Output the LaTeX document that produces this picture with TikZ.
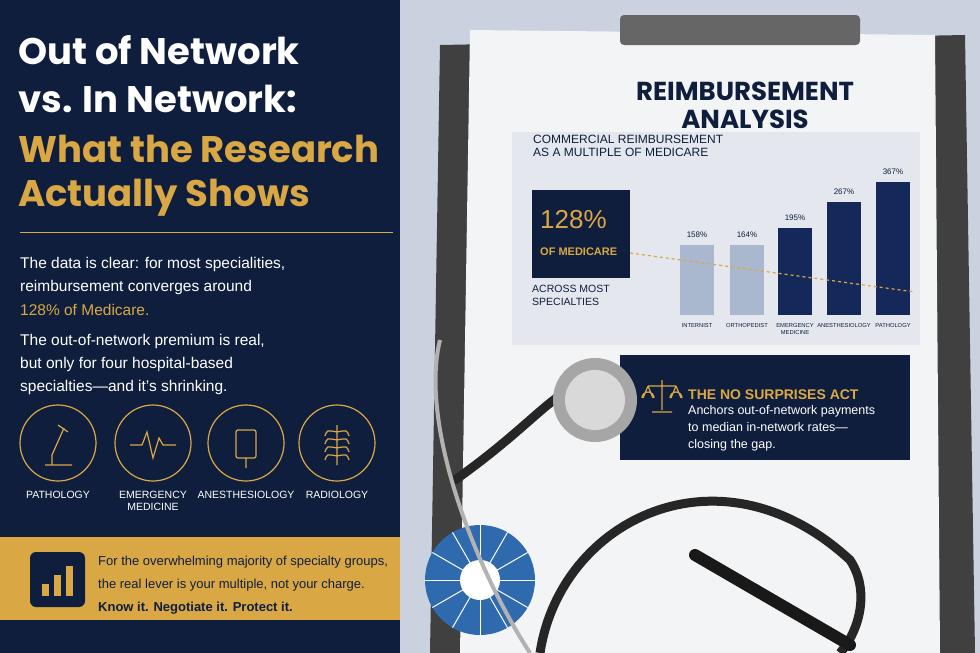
\documentclass[tikz,border=0pt]{standalone}
\usepackage{fontspec}
\setmainfont{Poppins}
\setsansfont{Liberation Sans}
\usetikzlibrary{positioning}
\definecolor{navy}{HTML}{0F1E3D}
\definecolor{gold}{HTML}{D9A845}
\definecolor{barlight}{HTML}{A9B8CF}
\definecolor{bardark}{HTML}{15285A}
\definecolor{paper}{HTML}{F3F4F6}
\definecolor{chartbg}{HTML}{E4E8EE}
\definecolor{desk}{HTML}{C9D2DE}
\definecolor{pieblue}{HTML}{2F6AAE}
\tikzset{
  body/.style={anchor=west, text=white, font=\sffamily\fontsize{15.5}{16}\selectfont, inner sep=0},
  ttl/.style={anchor=west, font=\bfseries\fontsize{37}{40}\selectfont, inner sep=0},
  iconring/.style={circle, draw=gold, line width=1.2pt, minimum size=76pt},
  iconlbl/.style={text=white, font=\sffamily\fontsize{10.5}{12}\selectfont, align=center, inner sep=0},
  pct/.style={font=\sffamily\fontsize{8}{9}\selectfont, text=navy},
  barlbl/.style={font=\sffamily\fontsize{5.8}{6.5}\selectfont, text=navy, align=center},
  band/.style={anchor=west, text=navy, font=\sffamily\fontsize{13}{14}\selectfont, inner sep=0}
}
\begin{document}
\begin{tikzpicture}[x=1pt,y=-1pt]
\useasboundingbox (0,0) rectangle (980,653);
% right side: desk, clipboard, paper
\fill[desk] (400,0) rectangle (980,653);
\fill[black!75] (440,45) -- (965,35) -- (975,653) -- (430,653) -- cycle;
\fill[paper] (470,30) -- (935,35) -- (940,653) -- (460,653) -- cycle;
\fill[black!60, rounded corners=4pt] (620,15) rectangle (860,45);
\node[font=\bfseries\fontsize{26}{28}\selectfont, text=navy, align=center] (rtitle) at (745,105) {REIMBURSEMENT\\ANALYSIS};
% chart panel
\fill[chartbg] (512,132) rectangle (920,345);
\node[anchor=north west, font=\sffamily\fontsize{12}{13}\selectfont, text=navy, align=left, inner sep=0] (sub) at (533,135) {COMMERCIAL REIMBURSEMENT\\AS A MULTIPLE OF MEDICARE};
\fill[navy] (532,190) rectangle (630,278);
\node[anchor=west, text=gold, font=\sffamily\fontsize{26}{28}\selectfont, inner sep=0] (big) at (540,220) {128\%};
\node[anchor=west, text=gold, font=\sffamily\bfseries\fontsize{11}{12}\selectfont, inner sep=0] (bigsub) at (540,252) {OF MEDICARE};
\node[anchor=north west, text=navy, font=\sffamily\fontsize{10.5}{13}\selectfont, align=left, inner sep=0] (across) at (532,285) {ACROSS MOST\\SPECIALTIES};
% bars
\foreach \x/\t/\c/\p/\l [count=\i] in {680/245/barlight/158/INTERNIST, 730/245/barlight/164/ORTHOPEDIST, 778/228/bardark/195/EMERGENCY\\MEDICINE, 827/202/bardark/267/ANESTHESIOLOGY, 876/182/bardark/367/PATHOLOGY}{
  \fill[\c] (\x,\t) rectangle ++(34,315-\t);
  \node[pct] (p\i) at (\x+17,\t-10) {\p\%};
  \node[barlbl, anchor=north] (l\i) at (\x+17,320) {\l};
}
\draw[gold, dashed, line width=1.2pt] (630,253) -- (915,292);
% no surprises box
\fill[navy] (620,355) rectangle (910,460);
\draw[gold, line width=1.2pt] (662,380) -- (662,410) (652,412) -- (672,412) (648,386) -- (676,386)
  (648,386) -- (643,398) (648,386) -- (653,398) (676,386) -- (671,398) (676,386) -- (681,398)
  (642,398) arc[start angle=180, end angle=360, radius=6] (670,398) arc[start angle=180, end angle=360, radius=6];
\node[anchor=west, text=gold, font=\sffamily\bfseries\fontsize{14}{15}\selectfont, inner sep=0] (nsa) at (688,395) {THE NO SURPRISES ACT};
\node[anchor=north west, text=white, font=\sffamily\fontsize{12.5}{17}\selectfont, align=left, inner sep=0] (nsatxt) at (688,405) {Anchors out-of-network payments\\to median in-network rates—\\closing the gap.};
% pie chart, stethoscope and pen
\fill[pieblue] (480,580) circle (55);
\foreach \a in {0,30,...,330}{\draw[white, line width=1pt] (480,580) -- ++(\a:55);}
\fill[white] (480,580) circle (20);
\draw[black!85, line width=9pt, line cap=round] (455,480) .. controls (540,420) and (560,380) .. (595,385);
\draw[black!85, line width=9pt] (540,653) .. controls (560,520) and (720,440) .. (850,560) .. controls (870,590) and (860,630) .. (840,653);
\draw[gray!60, line width=4pt] (440,340) .. controls (420,420) and (470,560) .. (530,653);
\fill[gray!70] (595,400) circle (42);
\fill[gray!30] (595,400) circle (30);
\draw[black!90, line width=12pt, line cap=round] (695,555) -- (850,645);
% left panel
\fill[navy] (0,0) rectangle (400,653);
\node[ttl, text=white] (t1) at (18,50) {Out of Network};
\node[ttl, text=white] (t2) at (18,99) {vs. In Network:};
\node[ttl, text=gold] (t3) at (18,149) {What the Research};
\node[ttl, text=gold] (t4) at (18,198) {Actually Shows};
\draw[gold, line width=1pt] (20,232) -- (393,232);
\node[body] (b1) at (20,264) {The data is clear: for most specialities,};
\node[body] (b2) at (20,287) {reimbursement converges around};
\node[body, text=gold] (b3) at (20,310) {128\% of Medicare.};
\node[body] (b4) at (20,341) {The out-of-network premium is real,};
\node[body] (b5) at (20,364) {but only for four hospital-based};
\node[body] (b6) at (20,387) {specialties—and it’s shrinking.};
\foreach \x/\l [count=\i] in {58/PATHOLOGY, 153/EMERGENCY\\MEDICINE, 246/ANESTHESIOLOGY, 337/RADIOLOGY}{
  \node[iconring] (ic\i) at (\x,443) {};
  \node[iconlbl, anchor=north] (il\i) at (\x,491) {\l};
}
% icon glyphs
\draw[gold, line width=1.2pt] (45,465) -- (72,465) (52,465) -- (52,455) -- (64,428) (58,425) -- (68,432);
\draw[gold, line width=1.2pt] (130,445) -- (142,445) -- (147,432) -- (153,458) -- (159,438) -- (163,445) -- (176,445);
\draw[gold, line width=1.2pt, rounded corners=2pt] (236,430) rectangle (256,458) (246,458) -- (246,468);
\draw[gold, line width=1.2pt] (337,425) -- (337,465) \foreach \k in {0,1,2,3}{(337,432+8*\k) .. controls (327,430+8*\k) .. (325,436+8*\k) (337,432+8*\k) .. controls (347,430+8*\k) .. (349,436+8*\k)};
% bottom band
\fill[gold] (0,537) rectangle (400,620);
\fill[navy, rounded corners=6pt] (30,552) rectangle (85,607);
\foreach \k in {0,1,2}{\fill[gold] (42+12*\k,596) rectangle ++(7,-12-9*\k);}
\node[band] (c1) at (98,562) {For the overwhelming majority of specialty groups,};
\node[band] (c2) at (98,585) {the real lever is your multiple, not your charge.};
\node[band, font=\sffamily\bfseries\fontsize{13}{14}\selectfont] (c3) at (98,608) {Know it. Negotiate it. Protect it.};
\end{tikzpicture}
\end{document}
